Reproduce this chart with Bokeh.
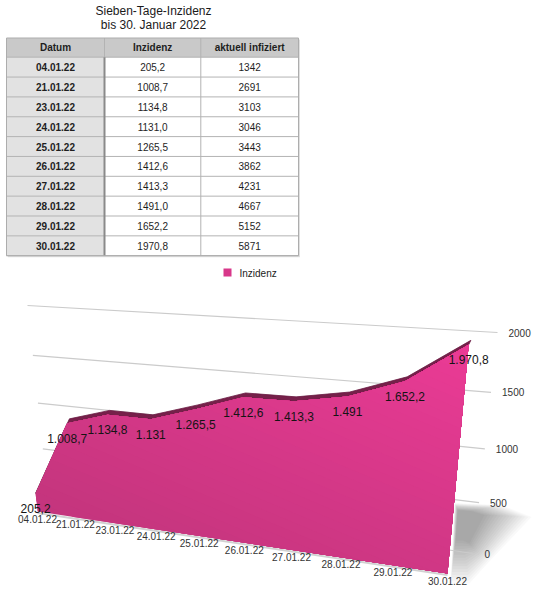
import numpy as np
from bokeh.plotting import figure
from bokeh.models import Range1d
from bokeh.embed import file_html
from bokeh.resources import INLINE
from bokeh.core.properties import value

# ---------------- data ----------------
title_lines = ["Sieben-Tage-Inzidenz", "bis 30. Januar 2022"]
header = ["Datum", "Inzidenz", "aktuell infiziert"]
dates = ["04.01.22", "21.01.22", "23.01.22", "24.01.22", "25.01.22",
         "26.01.22", "27.01.22", "28.01.22", "29.01.22", "30.01.22"]
incidence = [205.2, 1008.7, 1134.8, 1131.0, 1265.5, 1412.6, 1413.3, 1491.0, 1652.2, 1970.8]
infected = [1342, 2691, 3103, 3046, 3443, 3862, 4231, 4667, 5152, 5871]
y_ticks = [0, 500, 1000, 1500, 2000]
y_max = 2000
series_name = "Inzidenz"

FONT = value("Liberation Sans")


def de_table(v):
    return f"{v:.1f}".replace(".", ",")


def de_label(v):
    if float(v).is_integer():
        s = f"{int(v):,}"
        return s.replace(",", ".")
    s = f"{v:,.1f}"
    return s.replace(",", "#").replace(".", ",").replace("#", ".")


# ---------------- perspective helpers ----------------
def homography(src, dst):
    A, b = [], []
    for (x, y), (u, v) in zip(src, dst):
        A.append([x, y, 1, 0, 0, 0, -u * x, -u * y]); b.append(u)
        A.append([0, 0, 0, x, y, 1, -v * x, -v * y]); b.append(v)
    h = np.linalg.solve(np.array(A, float), np.array(b, float))
    return np.append(h, 1.0).reshape(3, 3)


def project(H, x, y):
    x = np.asarray(x, float); y = np.asarray(y, float)
    w = H[2, 0] * x + H[2, 1] * y + H[2, 2]
    return (H[0, 0] * x + H[0, 1] * y + H[0, 2]) / w, (H[1, 0] * x + H[1, 1] * y + H[1, 2]) / w


n_cat = len(dates)
last = n_cat - 1
# front plane frame (category index, value) -> picture pixels
H_front = homography([(0, 0), (last, 0), (0, y_max), (last, y_max)],
                     [(37, 511), (447, 573), (17, 320), (468.5, 340.5)])
# back wall frame (fraction across, value) -> picture pixels
H_back = homography([(0, 0), (1, 0), (0, y_max), (1, y_max)],
                    [(47, 492), (473, 553), (27, 305), (497, 332)])

W, Hh = 538, 592
p = figure(width=W, height=Hh, x_range=Range1d(0, W), y_range=Range1d(Hh, 0),
           toolbar_location=None, output_backend="svg", min_border=0,
           x_axis_location=None, y_axis_location=None)
p.grid.visible = False
p.outline_line_color = None
p.background_fill_color = "white"
p.border_fill_color = "white"

# ---------------- title ----------------
p.text(x=[153, 153], y=[10, 24], text=title_lines, text_font=FONT, text_font_size="12px",
       text_align="center", text_baseline="middle", text_color="#1a1a1a")

# ---------------- table ----------------
t_left, t_right = 6, 298
col_edges = [t_left, 104, 200.3, t_right]
head_top, head_bot = 37.5, 56.7
row_h = (255.2 - head_bot) / len(dates)
row_edges = [head_bot + k * row_h for k in range(len(dates) + 1)]

# faint drop shadow
p.quad(left=[t_left + 1.5], right=[t_right + 1.5], top=[head_top + 1.5], bottom=[row_edges[-1] + 1.5],
       fill_color="#000000", fill_alpha=0.12, line_color=None)
p.quad(left=[t_left], right=[t_right], top=[head_top], bottom=[row_edges[-1]],
       fill_color="white", line_color=None)
p.quad(left=[t_left], right=[t_right], top=[head_top], bottom=[head_bot],
       fill_color="#c9c9c9", line_color=None)
p.quad(left=[t_left] * len(dates), right=[col_edges[1]] * len(dates),
       top=row_edges[:-1], bottom=row_edges[1:], fill_color="#e2e2e2", line_color=None)
# grid lines
p.segment(x0=[t_left] * len(row_edges), x1=[t_right] * len(row_edges), y0=row_edges, y1=row_edges,
          line_color="#b3b3b3", line_width=1)
p.segment(x0=[col_edges[2]], x1=[col_edges[2]], y0=[head_top], y1=[row_edges[-1]],
          line_color="#b3b3b3", line_width=1)
p.segment(x0=[col_edges[1]], x1=[col_edges[1]], y0=[head_top], y1=[head_bot],
          line_color="#b3b3b3", line_width=1)
p.segment(x0=[col_edges[1]], x1=[col_edges[1]], y0=[head_bot], y1=[row_edges[-1]],
          line_color="#8a8a8a", line_width=2)
p.quad(left=[t_left], right=[t_right], top=[head_top], bottom=[row_edges[-1]],
       fill_color=None, line_color="#adadad", line_width=1)

col_centers = [(col_edges[k] + col_edges[k + 1]) / 2 for k in range(3)]
p.text(x=col_centers, y=[(head_top + head_bot) / 2] * 3, text=header, text_font=FONT,
       text_font_size="10px", text_font_style="bold", text_align="center",
       text_baseline="middle", text_color="#1e1e1e")
row_mid = [(row_edges[k] + row_edges[k + 1]) / 2 for k in range(len(dates))]
p.text(x=[col_centers[0]] * len(dates), y=row_mid, text=dates, text_font=FONT,
       text_font_size="10px", text_font_style="bold", text_align="center",
       text_baseline="middle", text_color="#1e1e1e")
p.text(x=[col_centers[1]] * len(dates), y=row_mid, text=[de_table(v) for v in incidence],
       text_font=FONT, text_font_size="10px", text_align="center",
       text_baseline="middle", text_color="#1e1e1e")
p.text(x=[col_centers[2]] * len(dates), y=row_mid, text=[str(v) for v in infected],
       text_font=FONT, text_font_size="10px", text_align="center",
       text_baseline="middle", text_color="#1e1e1e")

# ---------------- legend ----------------
p.quad(left=[223], right=[231], top=[268], bottom=[276], fill_color="#d8378a", line_color=None)
p.text(x=[239], y=[272.5], text=[series_name], text_font=FONT, text_font_size="10px",
       text_align="left", text_baseline="middle", text_color="#222222")

# ---------------- 3D area chart ----------------
# soft cast shadow to the right of the end face
A0 = np.array(project(H_front, last, 0))
B0 = np.array(project(H_front, last, 900))
outer = [B0 + (-2, 28), B0 + (45, 30), B0 + (75, 42), A0 + (40, -10), A0 + (22, 10), A0 + (3, 10)]
inner = [B0 + (1, 35), B0 + (15, 36), B0 + (28, 40), A0 + (22, -30), A0 + (15, -33), A0 + (8, -33)]
layers = 16
for k in range(layers):
    t = k / (layers - 1)
    pts = [o + (i - o) * t for o, i in zip(outer, inner)]
    p.patch([q[0] for q in pts], [q[1] for q in pts], fill_color="#000000",
            fill_alpha=0.022, line_color=None)

# back wall gridlines + right value axis
gl_x0, gl_y0 = project(H_back, np.zeros(len(y_ticks)), y_ticks)
gl_x1, gl_y1 = project(H_back, np.ones(len(y_ticks)), y_ticks)
p.segment(x0=gl_x0, y0=gl_y0, x1=gl_x1, y1=gl_y1, line_color="#cbcbcb", line_width=1.2)
p.text(x=gl_x1 + 11, y=gl_y1, text=[str(t) for t in y_ticks], text_font=FONT,
       text_font_size="10px", text_align="left", text_baseline="middle", text_color="#333333")

# front face
idx = np.arange(n_cat)
tx, ty = project(H_front, idx, incidence)
bx, by = project(H_front, [last, 0], [0, 0])
face = [(a, b) for a, b in zip(tx, ty)] + [(bx[0], by[0]), (bx[1], by[1])]

# top surface (dark band)
D = np.array([2.2, -4.4])
band_x = list(tx) + list((tx + D[0])[::-1])
band_y = list(ty) + list((ty + D[1])[::-1])
p.patch(band_x, band_y, fill_color="#76204a", line_color="#6a1c42", line_width=0.8)

# soft shadow under bottom edge
p.line(x=list(bx[::-1]), y=list(by[::-1] + 1.5), line_color="#000000", line_alpha=0.18, line_width=2)


def clip_ge(poly, n, c):
    out = []
    for k in range(len(poly)):
        P = np.array(poly[k - 1]); Q = np.array(poly[k])
        dp = P @ n - c; dq = Q @ n - c
        if dq >= 0:
            if dp < 0:
                out.append(P + (dp / (dp - dq)) * (Q - P))
            out.append(Q)
        elif dp >= 0:
            out.append(P + (dp / (dp - dq)) * (Q - P))
    return out


nvec = np.array([0.42, -1.0]); nvec = nvec / np.linalg.norm(nvec)
s_vals = [np.array(q) @ nvec for q in face]
s_min, s_max = min(s_vals), max(s_vals)
c0 = np.array([0xc4, 0x35, 0x7d]); c1 = np.array([0xea, 0x3b, 0x95])
p.patch([q[0] for q in face], [q[1] for q in face], fill_color="#%02x%02x%02x" % tuple(c0),
        line_color=None)
steps = 36
for k in range(1, steps):
    c = s_min + (s_max - s_min) * k / steps
    poly = clip_ge(face, nvec, c)
    if len(poly) < 3:
        continue
    col = c0 + (c1 - c0) * k / (steps - 1)
    p.patch([q[0] for q in poly], [q[1] for q in poly],
            fill_color="#%02x%02x%02x" % tuple(int(round(v)) for v in col), line_color=None)

# value labels
p.text(x=tx, y=ty + 15, text=[de_label(v) for v in incidence], text_font=FONT,
       text_font_size="12px", text_align="center", text_baseline="middle", text_color="#141414")

# category labels along the bottom edge
cx, cy = project(H_front, idx, np.zeros(n_cat))
p.text(x=cx, y=cy + 7, text=dates, text_font=FONT, text_font_size="10px",
       text_align="center", text_baseline="middle", text_color="#333333")

open("out.html", "w").write(file_html(p, INLINE))
